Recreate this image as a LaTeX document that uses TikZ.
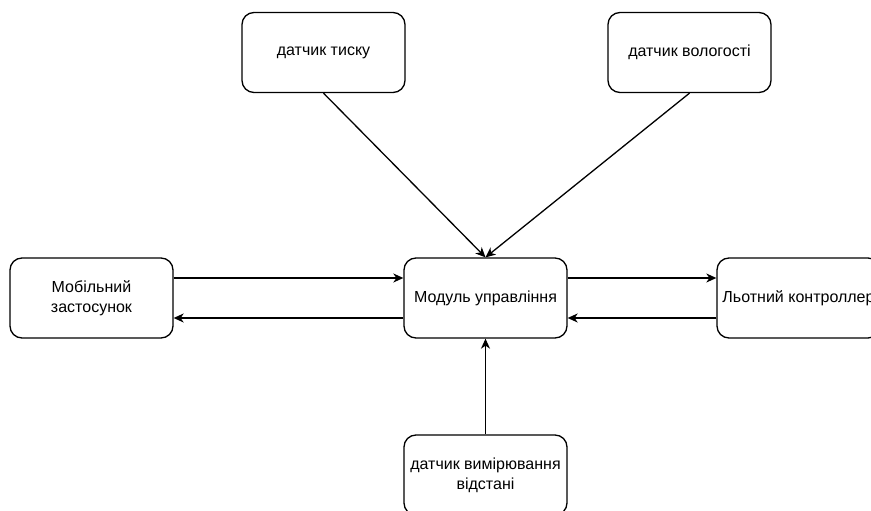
\documentclass[tikz,border=0pt]{standalone}
\usepackage{fontspec}
\setmainfont{Liberation Sans}
\usepackage{tikz}
\usetikzlibrary{arrows.meta}

\tikzset{
    block/.style = {draw, line width = 1.3pt, rounded corners = 12pt,
        minimum width = 163pt, minimum height = 80pt, inner sep = 2pt,
        align = center, font = \fontsize{16}{20}\selectfont},
    link/.style = {line width = 1.3pt,
        -{Stealth[length = 10pt, width = 9pt, inset = 3pt]}}
}

\begin{document}
\begin{tikzpicture}[x = 1pt, y = -1pt]
        \useasboundingbox (0, 0) rectangle (871, 511);

        \node[block] (tysk) at (323.5, 52.5) {датчик тиску};
        \node[block] (volog) at (689.5, 52.5) {датчик вологості};

        \node[block] (mobil) at (91.5, 298) {Мобільний\\застосунок};
        \node[block] (modul) at (485.5, 298) {Модуль управління};
        \node[block] (kontr) at (798.5, 298) {Льотний контроллер};

        \node[block] (vidst) at (485.5, 475) {датчик вимірювання\\відстані};

        \draw[link] (tysk.south) -- (modul.north);
        \draw[link] (volog.south) -- (modul.north);

        \draw[link] ([yshift = 20pt]mobil.east) -- ([yshift = 20pt]modul.west);
        \draw[link] ([yshift = -20pt]modul.west) -- ([yshift = -20pt]mobil.east);
        \draw[link] ([yshift = 20pt]modul.east) -- ([yshift = 20pt]kontr.west);
        \draw[link] ([yshift = -20pt]kontr.west) -- ([yshift = -20pt]modul.east);

        \draw[link] (vidst.north) -- (modul.south);
    \end{tikzpicture}
\end{document}
